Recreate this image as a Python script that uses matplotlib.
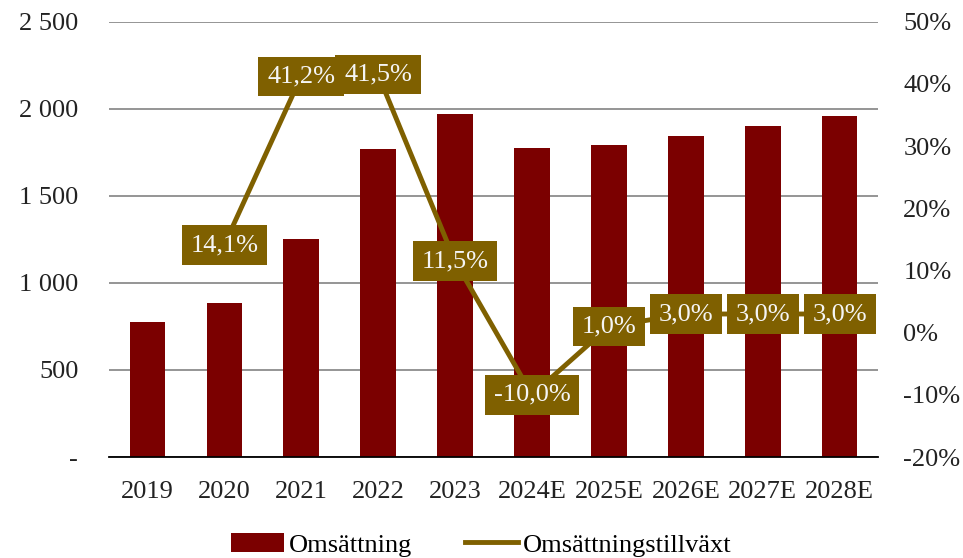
import matplotlib.pyplot as plt

plt.rcParams['font.family'] = ['Liberation Serif', 'DejaVu Serif']

years = ['2019', '2020', '2021', '2022', '2023', '2024E', '2025E', '2026E', '2027E', '2028E']
omsattning = [776, 885, 1250, 1768, 1971, 1774, 1792, 1846, 1901, 1958]
tillvaxt = [None, 14.1, 41.2, 41.5, 11.5, -10.0, 1.0, 3.0, 3.0, 3.0]
left_ticks = [0, 500, 1000, 1500, 2000, 2500]
left_labels = ['-', '500', '1 000', '1 500', '2 000', '2 500']
right_ticks = [-20, -10, 0, 10, 20, 30, 40, 50]

bar_color = '#7B0000'
line_color = '#7F6000'

fig = plt.figure(figsize=(9.63, 5.58), dpi=100)
ax = fig.add_axes([0.113, 0.181, 0.799, 0.780])
x = list(range(len(years)))
ax.bar(x, omsattning, width=0.46, color=bar_color, label='Omsättning', zorder=2)
ax.set_ylim(0, 2500)
ax.set_xlim(-0.5, len(years) - 0.5)
ax.set_yticks(left_ticks)
ax.set_yticklabels(left_labels)
ax.set_xticks(x)
ax.set_xticklabels(years)
ax.grid(axis='y', color='#8C8C8C', linewidth=1.3, zorder=0)
for s in ['top', 'right', 'left']:
    ax.spines[s].set_visible(False)
ax.spines['bottom'].set_color('black')
ax.spines['bottom'].set_linewidth(1.3)
ax.tick_params(length=0, labelsize=19, colors='#222222', pad=17)
ax.tick_params(axis='y', pad=22)

ax2 = ax.twinx()
gx = [i for i, v in zip(x, tillvaxt) if v is not None]
gv = [v for v in tillvaxt if v is not None]
ax2.plot(gx, gv, color=line_color, linewidth=3.5, label='Omsättningstillväxt', zorder=3)
ax2.set_ylim(-20, 50)
ax2.set_yticks(right_ticks)
ax2.set_yticklabels([f'{t}%' for t in right_ticks])
ax2.tick_params(length=0, labelsize=19, colors='#222222', pad=18)
for s in ax2.spines.values():
    s.set_visible(False)
for xi, v in zip(gx, gv):
    ax2.text(xi, v, f'{v:.1f}%'.replace('.', ','), ha='center', va='center',
             fontsize=19, color='#F5F5F5', zorder=4,
             bbox=dict(boxstyle='square,pad=0.33', facecolor=line_color, edgecolor='none'))

h1, l1 = ax.get_legend_handles_labels()
h2, l2 = ax2.get_legend_handles_labels()
fig.legend(h1 + h2, l1 + l2, loc='lower center', bbox_to_anchor=(0.5, -0.04), ncol=2,
           frameon=False, fontsize=19, handlelength=2.0, handletextpad=0.2, columnspacing=2.0)

fig.savefig('out.png', dpi=100)
